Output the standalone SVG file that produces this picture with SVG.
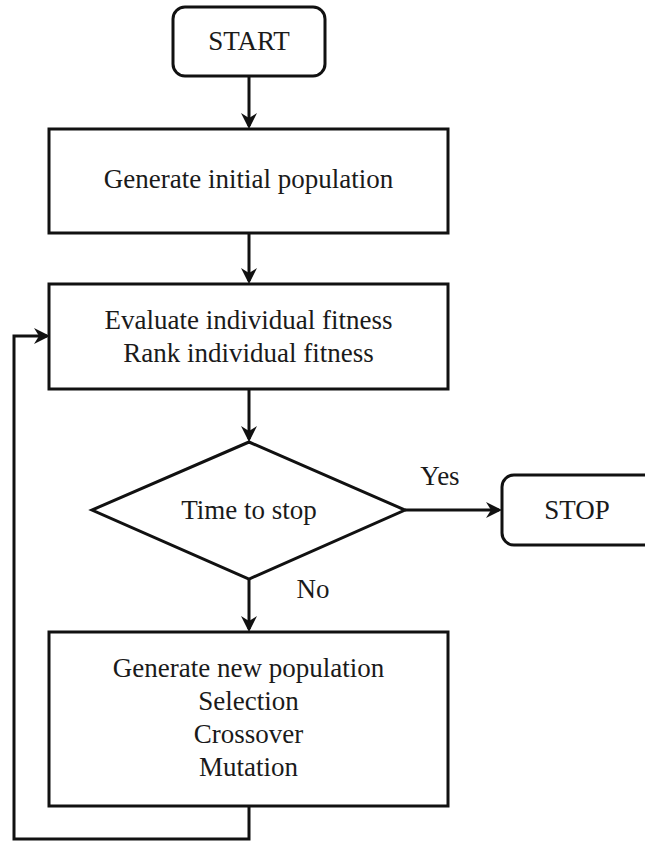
<svg xmlns="http://www.w3.org/2000/svg" width="645" height="843" viewBox="0 0 645 843">
  <style>
    .shape { fill: #ffffff; stroke: #111111; stroke-width: 3; }
    .link { fill: none; stroke: #111111; stroke-width: 3; marker-end: url(#arrow); }
    .label { font-family: "Liberation Serif", "Times New Roman", serif; font-size: 27px; fill: #1a1a1a; text-anchor: middle; }
  </style>
  <defs>
    <marker id="arrow" viewBox="0 0 16 16" markerWidth="16" markerHeight="16" refX="13" refY="8" orient="auto" markerUnits="userSpaceOnUse">
      <path d="M0,0 L16,8 L0,16 L5,8 Z" fill="#111111"/>
    </marker>
  </defs>

  <rect width="645" height="843" fill="#ffffff"/>

  <g id="connectors">
    <path class="link" d="M249,76 V126"/>
    <path class="link" d="M249,233 V281"/>
    <path class="link" d="M249,389 V439"/>
    <path class="link" d="M405,510 H499"/>
    <path class="link" d="M249,579 V629"/>
    <path class="link" d="M249,806 V839 H14 V336 H47"/>
  </g>

  <g id="start">
    <rect class="shape" x="173" y="7" width="152" height="69" rx="12"/>
    <text class="label" x="249" y="50">START</text>
  </g>

  <g id="init-population">
    <rect class="shape" x="49" y="129" width="399" height="104"/>
    <text class="label" x="248.5" y="188">Generate initial population</text>
  </g>

  <g id="evaluate">
    <rect class="shape" x="49" y="284" width="399" height="105"/>
    <text class="label" x="248.5" y="329">Evaluate individual fitness</text>
    <text class="label" x="248.5" y="362">Rank individual fitness</text>
  </g>

  <g id="decision">
    <polygon class="shape" points="249,442 405,510 249,579 92,510"/>
    <text class="label" x="249" y="519">Time to stop</text>
  </g>

  <g id="stop">
    <rect class="shape" x="502" y="475" width="160" height="70" rx="12"/>
    <text class="label" x="577" y="519">STOP</text>
  </g>

  <g id="edge-labels">
    <text class="label" x="440" y="485">Yes</text>
    <text class="label" x="313" y="598">No</text>
  </g>

  <g id="new-population">
    <rect class="shape" x="49" y="632" width="399" height="174"/>
    <text class="label" x="248.5" y="677">Generate new population</text>
    <text class="label" x="248.5" y="710">Selection</text>
    <text class="label" x="248.5" y="743">Crossover</text>
    <text class="label" x="248.5" y="776">Mutation</text>
  </g>
</svg>
